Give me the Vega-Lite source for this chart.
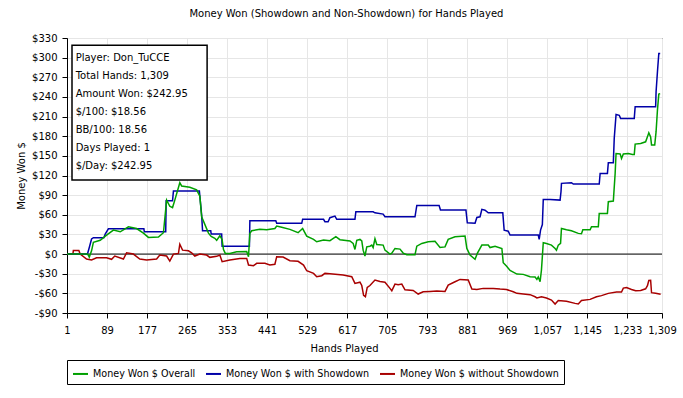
{
"$schema": "https://vega.github.io/schema/vega-lite/v6.json",
"width": 595,
"height": 275,
"autosize": {"type": "none"},
"padding": {"left": 67, "top": 38, "right": 21, "bottom": 85},
"background": "white",
"config": {
  "font": "DejaVu Sans",
  "view": {"stroke": "black", "strokeWidth": 1},
  "axis": {"labelFont": "DejaVu Sans", "labelFontSize": 10, "labelColor": "black", "titleFont": "DejaVu Sans", "titleFontSize": 10, "titleFontWeight": "normal", "titleColor": "black", "domainColor": "black", "tickColor": "black", "gridColor": "#e6e6e6", "tickSize": 5}
},
"title": {"text": "Money Won (Showdown and Non-Showdown) for Hands Played", "font": "DejaVu Sans", "fontSize": 10, "fontWeight": "normal", "color": "black", "anchor": "middle", "frame": "bounds", "offset": 14},
"layer": [
  {
    "data": {"values": [{}]},
    "mark": {"type": "rule", "color": "black", "strokeWidth": 1},
    "encoding": {"y": {"datum": 0, "type": "quantitative"}}
  },
  {
    "data": {"values": [
{"h":1,"s":"n","v":0},{"h":14,"s":"n","v":0},{"h":15,"s":"n","v":5.6},{"h":27,"s":"n","v":5.6},{"h":30,"s":"n","v":0},{"h":44,"s":"n","v":-7.6},{"h":55,"s":"n","v":-9},{"h":66,"s":"n","v":-5.6},{"h":88,"s":"n","v":-5.6},{"h":99,"s":"n","v":-8},{"h":106,"s":"n","v":-3},{"h":125,"s":"n","v":-7.6},{"h":132,"s":"n","v":2},{"h":147,"s":"n","v":0},{"h":161,"s":"n","v":-7.6},{"h":176,"s":"n","v":-9},{"h":198,"s":"n","v":-7.6},{"h":205,"s":"n","v":-1.5},{"h":220,"s":"n","v":-3},{"h":227,"s":"n","v":-10.7},{"h":235,"s":"n","v":0},{"h":246,"s":"n","v":1},{"h":249,"s":"n","v":15},{"h":255,"s":"n","v":6},{"h":268,"s":"n","v":5},{"h":275,"s":"n","v":2},{"h":282,"s":"n","v":-3},{"h":293,"s":"n","v":0},{"h":308,"s":"n","v":-1.5},{"h":315,"s":"n","v":-5},{"h":330,"s":"n","v":-3.5},{"h":337,"s":"n","v":-1.5},{"h":342,"s":"n","v":-11.7},{"h":359,"s":"n","v":-9},{"h":381,"s":"n","v":-6.6},{"h":396,"s":"n","v":-6.6},{"h":400,"s":"n","v":-16.8},{"h":411,"s":"n","v":-17.7},{"h":418,"s":"n","v":-14.2},{"h":436,"s":"n","v":-14.2},{"h":447,"s":"n","v":-16.8},{"h":458,"s":"n","v":-15.5},{"h":462,"s":"n","v":-4},{"h":476,"s":"n","v":-4.5},{"h":491,"s":"n","v":-10.2},{"h":509,"s":"n","v":-11},{"h":521,"s":"n","v":-16.8},{"h":528,"s":"n","v":-25.5},{"h":543,"s":"n","v":-29.5},{"h":550,"s":"n","v":-34.6},{"h":561,"s":"n","v":-33},{"h":568,"s":"n","v":-29.5},{"h":579,"s":"n","v":-30},{"h":608,"s":"n","v":-32},{"h":627,"s":"n","v":-34.6},{"h":634,"s":"n","v":-44.8},{"h":645,"s":"n","v":-43},{"h":649,"s":"n","v":-48},{"h":653,"s":"n","v":-63},{"h":657,"s":"n","v":-65},{"h":661,"s":"n","v":-51},{"h":667,"s":"n","v":-48},{"h":678,"s":"n","v":-39.7},{"h":689,"s":"n","v":-42},{"h":700,"s":"n","v":-43},{"h":711,"s":"n","v":-52.4},{"h":715,"s":"n","v":-56},{"h":722,"s":"n","v":-45.8},{"h":729,"s":"n","v":-47},{"h":737,"s":"n","v":-45.8},{"h":744,"s":"n","v":-54.5},{"h":762,"s":"n","v":-55.5},{"h":773,"s":"n","v":-61},{"h":784,"s":"n","v":-57.5},{"h":799,"s":"n","v":-57},{"h":814,"s":"n","v":-56.5},{"h":832,"s":"n","v":-57},{"h":839,"s":"n","v":-47.3},{"h":854,"s":"n","v":-42.3},{"h":865,"s":"n","v":-38.7},{"h":883,"s":"n","v":-39.5},{"h":891,"s":"n","v":-53.5},{"h":902,"s":"n","v":-54},{"h":916,"s":"n","v":-52.4},{"h":938,"s":"n","v":-52.4},{"h":953,"s":"n","v":-53.5},{"h":967,"s":"n","v":-54},{"h":982,"s":"n","v":-57.5},{"h":990,"s":"n","v":-60},{"h":1004,"s":"n","v":-61},{"h":1019,"s":"n","v":-62},{"h":1030,"s":"n","v":-65.2},{"h":1034,"s":"n","v":-67},{"h":1044,"s":"n","v":-65.2},{"h":1055,"s":"n","v":-67},{"h":1066,"s":"n","v":-70.2},{"h":1074,"s":"n","v":-76.3},{"h":1081,"s":"n","v":-71},{"h":1099,"s":"n","v":-72},{"h":1118,"s":"n","v":-75.3},{"h":1125,"s":"n","v":-76.3},{"h":1132,"s":"n","v":-71},{"h":1151,"s":"n","v":-69.2},{"h":1165,"s":"n","v":-65.2},{"h":1176,"s":"n","v":-63.5},{"h":1191,"s":"n","v":-60},{"h":1209,"s":"n","v":-58},{"h":1220,"s":"n","v":-58},{"h":1224,"s":"n","v":-52},{"h":1231,"s":"n","v":-51},{"h":1242,"s":"n","v":-54},{"h":1251,"s":"n","v":-56},{"h":1262,"s":"n","v":-55.5},{"h":1273,"s":"n","v":-53},{"h":1277,"s":"n","v":-48.4},{"h":1280,"s":"n","v":-40.3},{"h":1284,"s":"n","v":-40},{"h":1286,"s":"n","v":-59},{"h":1295,"s":"n","v":-60},{"h":1306,"s":"n","v":-61.5},
{"h":1,"s":"w","v":0},{"h":46,"s":"w","v":0},{"h":50,"s":"w","v":10},{"h":55,"s":"w","v":23},{"h":59,"s":"w","v":25},{"h":82,"s":"w","v":25},{"h":85,"s":"w","v":30.5},{"h":92,"s":"w","v":38.5},{"h":170,"s":"w","v":38.5},{"h":171,"s":"w","v":34},{"h":218,"s":"w","v":34},{"h":219,"s":"w","v":81.5},{"h":233,"s":"w","v":81.5},{"h":235,"s":"w","v":96.5},{"h":292,"s":"w","v":96.5},{"h":297,"s":"w","v":59.6},{"h":299,"s":"w","v":35.6},{"h":317,"s":"w","v":35.6},{"h":318,"s":"w","v":30.5},{"h":341,"s":"w","v":30.5},{"h":342,"s":"w","v":12},{"h":402,"s":"w","v":12},{"h":403,"s":"w","v":51},{"h":460,"s":"w","v":51},{"h":462,"s":"w","v":47},{"h":517,"s":"w","v":47},{"h":519,"s":"w","v":53},{"h":565,"s":"w","v":53},{"h":568,"s":"w","v":49.4},{"h":575,"s":"w","v":49.4},{"h":579,"s":"w","v":55.5},{"h":590,"s":"w","v":58},{"h":594,"s":"w","v":53},{"h":634,"s":"w","v":53},{"h":636,"s":"w","v":64.6},{"h":674,"s":"w","v":64.6},{"h":678,"s":"w","v":63},{"h":696,"s":"w","v":61},{"h":700,"s":"w","v":57},{"h":766,"s":"w","v":57},{"h":770,"s":"w","v":74.3},{"h":819,"s":"w","v":74.3},{"h":822,"s":"w","v":67.2},{"h":878,"s":"w","v":67.2},{"h":881,"s":"w","v":47.8},{"h":898,"s":"w","v":47},{"h":902,"s":"w","v":56},{"h":909,"s":"w","v":57},{"h":913,"s":"w","v":68.3},{"h":920,"s":"w","v":67},{"h":927,"s":"w","v":63},{"h":959,"s":"w","v":63},{"h":962,"s":"w","v":36.6},{"h":971,"s":"w","v":35},{"h":975,"s":"w","v":29},{"h":1037,"s":"w","v":29},{"h":1039,"s":"w","v":22.4},{"h":1042,"s":"w","v":36.6},{"h":1046,"s":"w","v":45},{"h":1048,"s":"w","v":83.4},{"h":1063,"s":"w","v":83.4},{"h":1085,"s":"w","v":82.4},{"h":1087,"s":"w","v":95.6},{"h":1088,"s":"w","v":108},{"h":1110,"s":"w","v":109},{"h":1114,"s":"w","v":106.9},{"h":1171,"s":"w","v":106.9},{"h":1173,"s":"w","v":123.2},{"h":1189,"s":"w","v":123.2},{"h":1191,"s":"w","v":139.5},{"h":1202,"s":"w","v":139.5},{"h":1204,"s":"w","v":176.7},{"h":1208,"s":"w","v":213.3},{"h":1215,"s":"w","v":212},{"h":1218,"s":"w","v":207.2},{"h":1248,"s":"w","v":207.2},{"h":1250,"s":"w","v":225},{"h":1295,"s":"w","v":225},{"h":1296,"s":"w","v":248},{"h":1299,"s":"w","v":278.5},{"h":1302,"s":"w","v":306.4},{"h":1305,"s":"w","v":306.4},
{"h":1,"s":"o","v":0},{"h":46,"s":"o","v":0},{"h":48,"s":"o","v":-2},{"h":50,"s":"o","v":-4.6},{"h":55,"s":"o","v":5},{"h":59,"s":"o","v":18},{"h":74,"s":"o","v":21},{"h":88,"s":"o","v":29},{"h":103,"s":"o","v":36.6},{"h":118,"s":"o","v":34},{"h":136,"s":"o","v":41.7},{"h":154,"s":"o","v":39},{"h":169,"s":"o","v":32},{"h":180,"s":"o","v":25.5},{"h":202,"s":"o","v":26},{"h":213,"s":"o","v":32.6},{"h":220,"s":"o","v":82.5},{"h":227,"s":"o","v":73},{"h":233,"s":"o","v":71},{"h":238,"s":"o","v":82.4},{"h":249,"s":"o","v":109},{"h":253,"s":"o","v":104},{"h":271,"s":"o","v":102},{"h":286,"s":"o","v":98},{"h":293,"s":"o","v":88.6},{"h":297,"s":"o","v":57},{"h":312,"s":"o","v":32},{"h":318,"s":"o","v":27},{"h":326,"s":"o","v":24},{"h":330,"s":"o","v":21},{"h":337,"s":"o","v":28},{"h":342,"s":"o","v":22},{"h":345,"s":"o","v":7},{"h":349,"s":"o","v":1},{"h":359,"s":"o","v":1},{"h":374,"s":"o","v":3.6},{"h":396,"s":"o","v":4},{"h":400,"s":"o","v":-4},{"h":403,"s":"o","v":31.6},{"h":407,"s":"o","v":35.6},{"h":425,"s":"o","v":38},{"h":440,"s":"o","v":37},{"h":458,"s":"o","v":39},{"h":462,"s":"o","v":42.8},{"h":473,"s":"o","v":41},{"h":491,"s":"o","v":37.7},{"h":509,"s":"o","v":32.6},{"h":519,"s":"o","v":39},{"h":528,"s":"o","v":27.5},{"h":543,"s":"o","v":22.4},{"h":550,"s":"o","v":18.8},{"h":565,"s":"o","v":21.4},{"h":579,"s":"o","v":20.5},{"h":592,"s":"o","v":26.5},{"h":601,"s":"o","v":22},{"h":623,"s":"o","v":20},{"h":630,"s":"o","v":16.3},{"h":634,"s":"o","v":7.1},{"h":638,"s":"o","v":21},{"h":645,"s":"o","v":22.4},{"h":649,"s":"o","v":20},{"h":652,"s":"o","v":6},{"h":656,"s":"o","v":-3},{"h":660,"s":"o","v":11},{"h":667,"s":"o","v":12},{"h":671,"s":"o","v":13.7},{"h":674,"s":"o","v":10},{"h":678,"s":"o","v":23.4},{"h":682,"s":"o","v":14.5},{"h":696,"s":"o","v":13.7},{"h":700,"s":"o","v":6},{"h":711,"s":"o","v":0},{"h":715,"s":"o","v":1.5},{"h":722,"s":"o","v":8.6},{"h":733,"s":"o","v":7.6},{"h":740,"s":"o","v":1.5},{"h":748,"s":"o","v":-1},{"h":766,"s":"o","v":-1},{"h":770,"s":"o","v":12},{"h":781,"s":"o","v":16.3},{"h":795,"s":"o","v":18.8},{"h":810,"s":"o","v":19.5},{"h":821,"s":"o","v":10},{"h":832,"s":"o","v":11},{"h":839,"s":"o","v":22.4},{"h":854,"s":"o","v":26.5},{"h":876,"s":"o","v":27.5},{"h":880,"s":"o","v":8.6},{"h":887,"s":"o","v":-1.5},{"h":898,"s":"o","v":-8},{"h":903,"s":"o","v":1},{"h":909,"s":"o","v":8.6},{"h":913,"s":"o","v":13.7},{"h":927,"s":"o","v":13.7},{"h":931,"s":"o","v":10},{"h":942,"s":"o","v":12},{"h":957,"s":"o","v":8.6},{"h":960,"s":"o","v":-13.2},{"h":967,"s":"o","v":-18.3},{"h":975,"s":"o","v":-25},{"h":990,"s":"o","v":-30.5},{"h":1004,"s":"o","v":-31},{"h":1019,"s":"o","v":-34.6},{"h":1030,"s":"o","v":-35},{"h":1034,"s":"o","v":-38.6},{"h":1037,"s":"o","v":-35},{"h":1041,"s":"o","v":-42.3},{"h":1044,"s":"o","v":-24.4},{"h":1048,"s":"o","v":17.3},{"h":1055,"s":"o","v":16},{"h":1066,"s":"o","v":13.7},{"h":1074,"s":"o","v":8.6},{"h":1077,"s":"o","v":6},{"h":1081,"s":"o","v":13.7},{"h":1086,"s":"o","v":16.3},{"h":1088,"s":"o","v":39},{"h":1099,"s":"o","v":37},{"h":1110,"s":"o","v":35.6},{"h":1125,"s":"o","v":31.6},{"h":1132,"s":"o","v":31},{"h":1135,"s":"o","v":37},{"h":1151,"s":"o","v":37},{"h":1154,"s":"o","v":41.7},{"h":1169,"s":"o","v":41.7},{"h":1171,"s":"o","v":62},{"h":1189,"s":"o","v":62},{"h":1191,"s":"o","v":80},{"h":1202,"s":"o","v":81},{"h":1206,"s":"o","v":123},{"h":1208,"s":"o","v":153.6},{"h":1217,"s":"o","v":153},{"h":1220,"s":"o","v":146},{"h":1224,"s":"o","v":153},{"h":1235,"s":"o","v":153.6},{"h":1244,"s":"o","v":152},{"h":1248,"s":"o","v":152},{"h":1250,"s":"o","v":168},{"h":1262,"s":"o","v":169},{"h":1273,"s":"o","v":171.5},{"h":1277,"s":"o","v":179},{"h":1280,"s":"o","v":185.3},{"h":1284,"s":"o","v":179},{"h":1286,"s":"o","v":166.5},{"h":1293,"s":"o","v":166.5},{"h":1296,"s":"o","v":186.9},{"h":1299,"s":"o","v":220},{"h":1302,"s":"o","v":244.3},{"h":1305,"s":"o","v":245}
    ]},
    "mark": {"type": "line", "strokeWidth": 1.5, "interpolate": "linear"},
    "encoding": {
      "x": {"field": "h", "type": "quantitative",
        "scale": {"domain": [1, 1309], "nice": false, "zero": false},
        "axis": {"values": [1, 89, 177, 265, 353, 441, 529, 617, 705, 793, 881, 969, 1057, 1145, 1233, 1309], "tickCount": 40, "format": ",d", "title": "Hands Played", "labelPadding": 7, "titlePadding": 8, "titleX": 277, "labelFlush": false, "labelOverlap": false, "grid": true}},
      "y": {"field": "v", "type": "quantitative",
        "scale": {"domain": [-90, 330], "nice": false, "zero": false},
        "axis": {"values": [-90, -60, -30, 0, 30, 60, 90, 120, 150, 180, 210, 240, 270, 300, 330], "tickCount": 40, "labelOverlap": false, "labelExpr": "(datum.value < 0 ? '-$' : '$') + abs(datum.value)", "title": "Money Won $", "labelPadding": 5, "titlePadding": 5, "grid": true}},
      "color": {"field": "s", "type": "nominal",
        "scale": {"domain": ["o", "w", "n"], "range": ["#00a000", "#0000a8", "#a80000"]},
        "legend": {"title": null, "orient": "none", "legendX": 0, "legendY": 322, "direction": "horizontal",
          "labelExpr": "datum.value == 'o' ? 'Money Won $ Overall' : datum.value == 'w' ? 'Money Won $ with Showdown' : 'Money Won $ without Showdown'",
          "symbolType": "stroke", "symbolStrokeWidth": 2, "symbolSize": 225, "labelFont": "DejaVu Sans", "labelFontSize": 9.6, "labelColor": "black",
          "strokeColor": "black", "fillColor": "white", "padding": 5, "columnPadding": 6, "labelOffset": 4, "labelLimit": 300}},
      "order": {"field": "h", "type": "quantitative"}
    }
  },
  {
    "data": {"values": [{}]},
    "mark": {"type": "rect", "fill": "white", "stroke": "black", "strokeWidth": 1.5},
    "encoding": {
      "x": {"datum": 12, "type": "quantitative"},
      "x2": {"datum": 309},
      "y": {"datum": 319, "type": "quantitative"},
      "y2": {"datum": 113}
    }
  },
  {
    "data": {"values": [{}]},
    "mark": {"type": "text", "align": "left", "baseline": "top", "lineHeight": 18, "font": "DejaVu Sans", "fontSize": 10, "color": "black"},
    "encoding": {
      "x": {"datum": 20, "type": "quantitative"},
      "y": {"datum": 307, "type": "quantitative"},
      "text": {"value": ["Player: Don_TuCCE", "Total Hands: 1,309", "Amount Won: $242.95", "$/100: $18.56", "BB/100: 18.56", "Days Played: 1", "$/Day: $242.95"]}
    }
  }
]
}
